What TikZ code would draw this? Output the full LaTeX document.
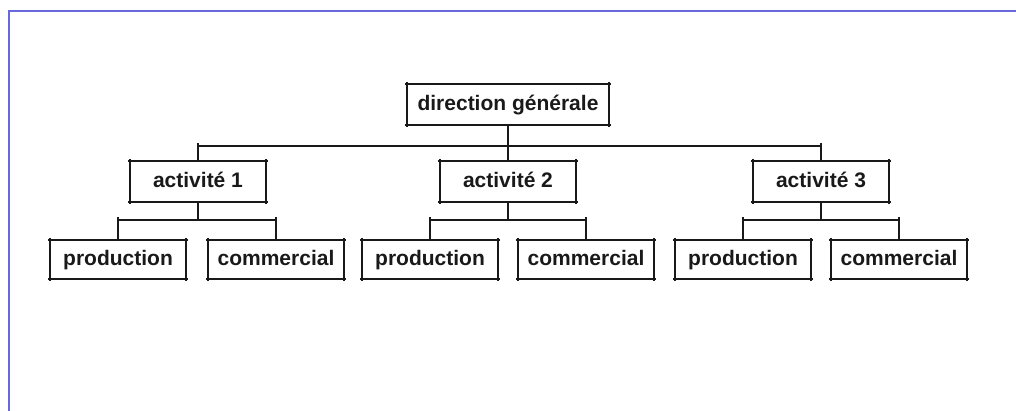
\documentclass[tikz,border=0pt]{standalone}
\usepackage{fontspec}
\setmainfont{Liberation Sans}
\definecolor{framecol}{RGB}{105,105,222}
\definecolor{inkcol}{RGB}{25,25,25}
\newcommand\orgedges[1]{%
  \draw[edge] (#1.north west) -- (#1.north east);
  \draw[edge] (#1.south west) -- (#1.south east);
  \draw[edge] (#1.north west) -- (#1.south west);
  \draw[edge] (#1.north east) -- (#1.south east);}
\begin{document}
\begin{tikzpicture}[x=1pt,y=-1pt,
  unit/.style={minimum width=136pt, minimum height=41pt, inner sep=0pt,
    text height=16pt, text depth=3.5pt,
    font=\bfseries\fontsize{21}{24}\selectfont, text=inkcol},
  leaf/.style={unit, minimum height=39pt},
  edge/.style={line width=2.2pt, draw=inkcol, shorten <=-2pt, shorten >=-2pt},
  link/.style={line width=2.2pt, draw=inkcol},
  tick/.style={link, shorten <=-3pt},
  frame/.style={line width=2.5pt, draw=framecol}]
\useasboundingbox (0,0) rectangle (1016,410);
% page frame
\draw[frame] (9,425) -- (9,11) -- (1030,11);

% top level
\node[unit, minimum width=201pt] (dg) at (508,104.5) {direction générale};
% activities
\node[unit] (a1) at (198,181.5) {activité 1};
\node[unit] (a2) at (508,181.5) {activité 2};
\node[unit] (a3) at (821,181.5) {activité 3};
% departments
\node[leaf] (p1) at (118,259.5) {production};
\node[leaf] (c1) at (276,259.5) {commercial};
\node[leaf] (p2) at (430,259.5) {production};
\node[leaf] (c2) at (586,259.5) {commercial};
\node[leaf] (p3) at (743,259.5) {production};
\node[leaf] (c3) at (899,259.5) {commercial};

\foreach \n in {dg,a1,a2,a3,p1,c1,p2,c2,p3,c3} {\orgedges{\n}}

% connectors
\coordinate (bus) at (508,146);
\coordinate (row2) at (0,220);
\draw[link] (dg.south) -- (bus);
\draw[link] (a1.north |- bus) -- (a3.north |- bus);
\foreach \a in {a1,a2,a3} {\draw[tick] (\a.north |- bus) -- (\a.north);}
\foreach \a/\p/\c in {a1/p1/c1,a2/p2/c2,a3/p3/c3} {
  \draw[link] (\a.south) -- (\a.south |- row2);
  \draw[link] (\p.north |- row2) -- (\c.north |- row2);
  \draw[tick] (\p.north |- row2) -- (\p.north);
  \draw[tick] (\c.north |- row2) -- (\c.north);
}
\end{tikzpicture}
\end{document}
